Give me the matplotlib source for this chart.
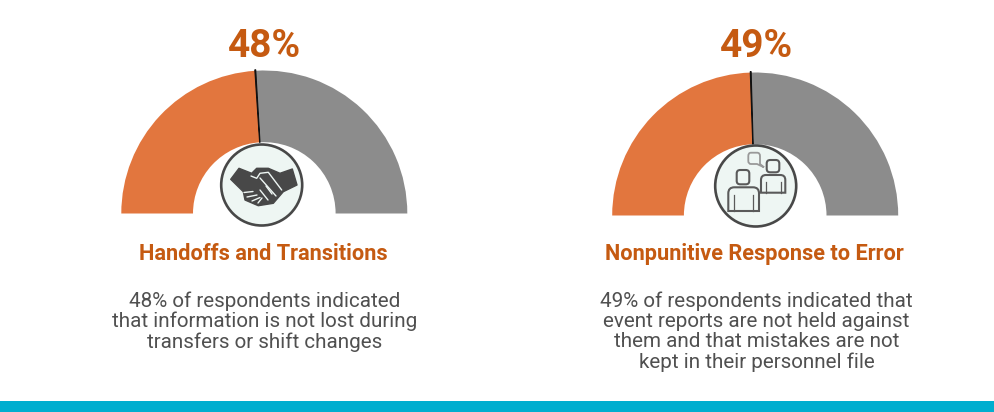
import matplotlib
matplotlib.use("Agg")
import matplotlib.pyplot as plt
from matplotlib.patches import Wedge, Circle, Polygon, FancyBboxPatch, Rectangle, PathPatch
from matplotlib.path import Path

W, H = 995, 412
percents = [48, 49]
complements = [52, 51]
value_labels = ["48%", "49%"]
titles = ["Handoffs and Transitions", "Nonpunitive Response to Error"]
bodies = [
    "48% of respondents indicated\nthat information is not lost during\ntransfers or shift changes",
    "49% of respondents indicated that\nevent reports are not held against\nthem and that mistakes are not\nkept in their personnel file",
]
ORANGE = "#E2763E"
GREY = "#8C8C8C"
TITLE = "#C55A11"
TEXT = "#505050"
DARK = "#484848"
ICONBG = "#EEF6F3"
BAR = "#00AECF"

fig = plt.figure(figsize=(W / 100, H / 100), dpi=100, facecolor="white")
ax = fig.add_axes([0, 0, 1, 1])
ax.set_xlim(0, W)
ax.set_ylim(H, 0)
ax.axis("off")

centers = [(264.3, 213.5), (755.2, 215.5)]
circles = [(261.7, 185.0), (755.7, 186.0)]
value_cx = [264.5, 757]
title_cx = [263.5, 754]
body_cx = [265, 756.5]
R, r = 143, 71.3


def gauge(cx, cy, pct, comp):
    split = 180 * pct / (pct + comp)
    # y axis is inverted: angles run clockwise on screen, 180 is the left end
    ax.add_patch(Wedge((cx, cy), R, 180, 180 + split, width=R - r, fc=ORANGE, ec="none", zorder=2))
    ax.add_patch(Wedge((cx, cy), R, 180 + split, 360, width=R - r, fc=GREY, ec="none", zorder=2))
    ax.add_patch(Wedge((cx, cy), R + 1, 180 + split - 0.2, 180 + split + 0.2, width=R - r + 1,
                       fc="#111111", ec="#111111", lw=0.7, zorder=3))


for i in range(2):
    gauge(*centers[i], percents[i], complements[i])
    ax.add_patch(Circle(circles[i], 40.5, fc=ICONBG, ec=DARK, lw=1.9, zorder=4))
    ax.text(value_cx[i], 56.5, value_labels[i], ha="center", va="baseline", family="Roboto",
            weight="bold", fontsize=28, color=TITLE)
    ax.text(title_cx[i], 260, titles[i], ha="center", va="baseline", family="Roboto",
            weight="bold", fontsize=15.7, color=TITLE)
    ax.text(body_cx[i], 291, bodies[i], ha="center", va="top", family="Roboto",
            fontsize=14.85, color=TEXT, linespacing=1.09)

# handshake icon
ax.add_patch(Polygon(
    [(230.7, 179.3), (239, 168.3), (251.7, 173.3), (256.7, 168.3), (268.3, 168.3), (280, 173.3),
     (292.3, 169), (297, 185), (283.3, 191.7), (273.3, 203.3), (258.3, 205.7), (245, 200), (243.3, 191.7)],
    closed=True, fc=DARK, ec=DARK, lw=1, joinstyle="round", zorder=5))
for seg in [
    [(251, 176), (256.7, 178.3), (260, 173.3), (268.3, 172.3), (281.7, 190)],
    [(260, 178), (276, 196)],
    [(266, 186), (272, 194)],
    [(260, 190), (268, 200)],
    [(244, 192.5), (253, 191.5)],
    [(247, 197), (257, 195)],
    [(252, 201), (260, 197.5)],
    [(258, 203), (262, 198)],
]:
    xs, ys = zip(*seg)
    ax.plot(xs, ys, color=ICONBG, lw=1.0, zorder=6, solid_capstyle="round")

# people icon
LINE = "#5A5A5A"


def head(x0, y0, x1, y1, rad):
    ax.add_patch(FancyBboxPatch((x0 + rad, y0 + rad), x1 - x0 - 2 * rad, y1 - y0 - 2 * rad,
                                boxstyle=f"round,pad={rad}", fc="none", ec=LINE, lw=1.5, zorder=5))


def body(x0, y0, x1, y1, rad, lx0, lx1, ly):
    verts = [(x0, y1), (x0, y0 + rad), (x0, y0), (x0 + rad, y0), (x1 - rad, y0), (x1, y0),
             (x1, y0 + rad), (x1, y1), (x0, y1)]
    codes = [1, 2, 3, 3, 2, 3, 3, 2, 79]
    ax.add_patch(PathPatch(Path(verts, codes), fc="none", ec=LINE, lw=1.5, zorder=5))
    ax.plot([lx0, lx0], [ly, y1], color=LINE, lw=0.9, zorder=5)
    ax.plot([lx1, lx1], [ly, y1], color=LINE, lw=0.9, zorder=5)


head(736.7, 170, 749.3, 184.3, 3.5)
body(728.3, 187.3, 759, 211, 6, 734, 753.3, 195)
head(766.7, 160, 779.3, 172.3, 3.5)
body(761, 175, 785.3, 192.7, 5, 765.7, 780.7, 182)
bx = [(751, 152.7), (757, 152.7), (760, 152.7), (760, 156), (760, 161), (760, 164), (764, 167.3),
      (757, 164), (751, 164), (748.3, 164), (748.3, 161), (748.3, 156), (748.3, 152.7), (751, 152.7)]
ax.add_patch(PathPatch(Path(bx, [1, 2, 3, 3, 2, 2, 2, 2, 2, 3, 3, 2, 3, 3]),
                       fc="none", ec="#999999", lw=1.3, zorder=5))

# bottom band
ax.add_patch(Rectangle((0, 401), W, 11, fc=BAR, ec="none", zorder=2))

fig.savefig("out.png", dpi=100, facecolor="white")
